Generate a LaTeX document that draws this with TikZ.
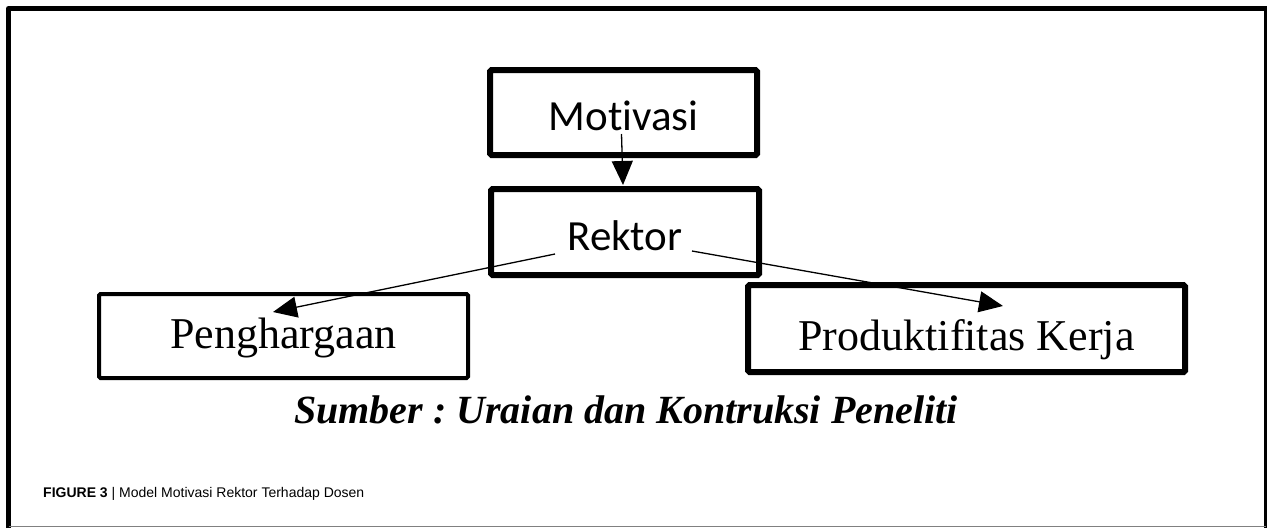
\documentclass[tikz,border=0pt]{standalone}
\usepackage{fontspec}
\setmainfont[Ligatures=NoCommon]{Liberation Serif}
\setsansfont{Liberation Sans}
\newfontfamily\calibrifont[Ligatures=NoCommon]{Carlito}
\usetikzlibrary{arrows.meta}

\begin{document}
\frenchspacing
\begin{tikzpicture}[x=1pt,y=-1pt]
  \useasboundingbox (0,0) rectangle (1267,528);

  % outer frame
  \draw[line width=5pt, line join=round] (8.5,528) -- (8.5,8.5) -- (1266,8.5) -- (1266,528);
  \draw[gray, line width=1.2pt] (8.5,526.5) -- (1266,526.5);

  \begin{scope}[every node/.style={draw, rectangle, rounded corners=1.5pt, inner sep=0pt, line width=6pt}]
      \tikzset{sans box/.style={font=\calibrifont\fontsize{43}{50}\selectfont, text depth=0pt},
               serif box/.style={font=\fontsize{44}{50}\selectfont}}

      \node[sans box, minimum width=267pt, minimum height=85pt, text height=35pt] (mot) at (623.5,112.5) {Motivasi};
      \node[sans box, minimum width=268pt, minimum height=86pt, text height=36pt] (rek) at (625,232) {Rektor};

      \node[serif box, line width=4pt, minimum width=369pt, minimum height=84pt, text height=33pt, text depth=9pt] (pen) at (283.5,336) {Penghargaan};
      \node[serif box, minimum width=437pt, minimum height=87pt, text height=52pt, text depth=9pt] (pro) at (966.5,328.5) {Produktifitas Kerja};
  \end{scope}

  \tikzset{flow arc/.style={-{Triangle[length=24pt,width=21pt]}, black, line width=1.3pt}}

  \draw[flow arc] ([shift={(-2pt,-21.5pt)}]mot.center) -- ([shift={(-2pt,1pt)}]rek.north);

  \draw[flow arc] ([shift={(-70pt,-22pt)}]rek.center) -- ([shift={(-10.5pt,24pt)}]pen.center);
  \draw[flow arc] ([shift={(67pt,-19pt)}]rek.center) -- ([shift={(36.5pt,22.5pt)}]pro.center);

  \node[font=\bfseries\itshape\fontsize{40}{44}\selectfont, anchor=base, inner sep=0pt] (src) at (626,423) {Sumber : Uraian dan Kontruksi Peneliti};

  \node[font=\sffamily\fontsize{14}{16}\selectfont, anchor=base west, inner sep=0pt] (cap) at (43,497) {\textbf{FIGURE 3} | Model Motivasi Rektor Terhadap Dosen};

\end{tikzpicture}
\end{document}
